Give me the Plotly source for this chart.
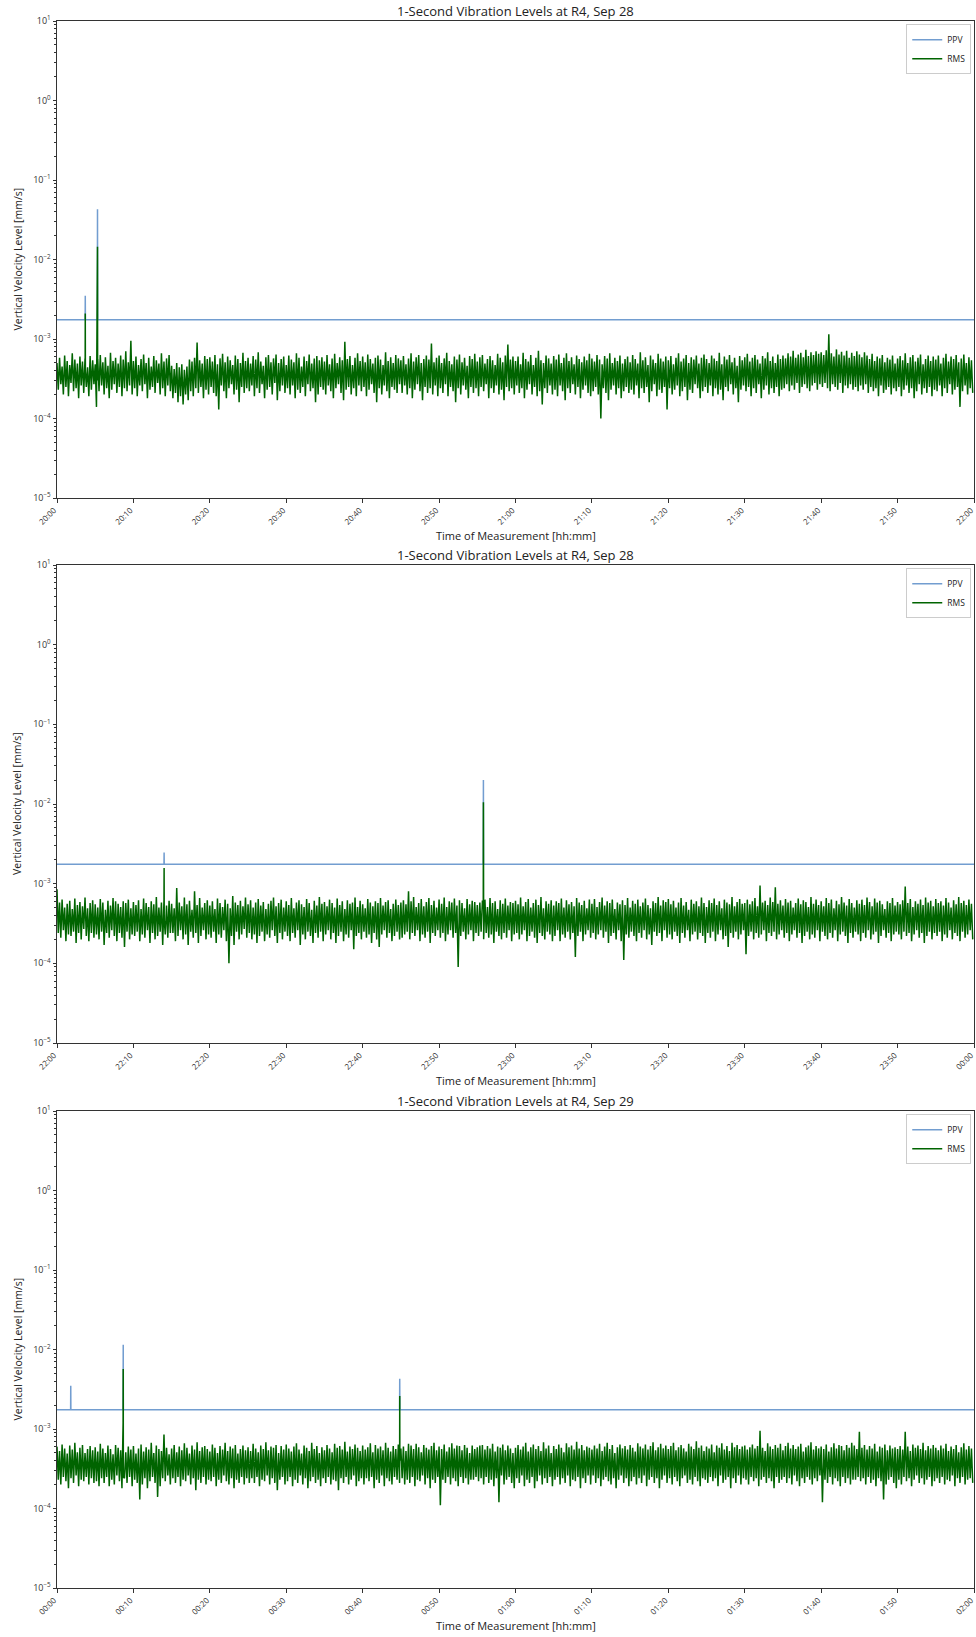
import pandas as pd
import plotly.graph_objects as go

# ---------------- data ----------------
TITLES = ["1-Second Vibration Levels at R4, Sep 28",
          "1-Second Vibration Levels at R4, Sep 28",
          "1-Second Vibration Levels at R4, Sep 29"]
STARTS = ["2023-09-28 20:00:00", "2023-09-28 22:00:00", "2023-09-29 00:00:00"]
ENDS = ["2023-09-28 22:00:00", "2023-09-29 00:00:00", "2023-09-29 02:00:00"]
STEP_S = 10            # RMS read every 10 s (alternating local max / local min)
RMS_UNIT = 1e-5        # RMS values below are in units of 1e-5 mm/s

rms1 = [
    50,23,58,27,45,20,62,25,53,19,47,28,66,22,55,24,49,18,60,26,52,21,57,25,44,19,61,23,54,27,
    48,14,56,22,63,26,51,20,59,24,46,18,67,23,53,27,58,21,49,25,62,19,55,24,70,22,51,26,95,20,
    53,24,60,19,47,26,56,22,64,27,50,18,58,23,45,25,61,21,54,28,49,20,66,24,52,19,57,26,63,22,
    46,18,42,21,50,16,44,19,48,15,41,20,45,17,55,22,52,19,58,24,90,21,54,25,49,18,61,23,56,20,
    59,25,52,21,63,19,48,13,57,26,65,22,51,18,60,24,54,27,47,20,62,23,56,16,50,25,67,21,53,24,
    58,22,49,26,61,19,55,24,68,21,52,27,46,18,59,23,63,25,51,20,57,28,64,17,50,22,56,26,60,21,
    47,24,62,20,55,26,51,18,66,23,58,21,45,25,60,19,53,27,64,22,49,24,57,16,61,20,54,25,59,23,
    52,20,63,26,48,22,57,18,65,24,50,27,59,21,54,17,92,23,56,25,61,20,47,24,58,19,66,26,53,22,
    60,25,51,19,64,23,56,27,49,21,58,16,62,24,55,20,47,26,68,22,53,18,59,25,50,23,63,21,57,27,
    54,21,61,26,48,20,57,24,66,18,52,23,59,27,63,22,50,17,56,25,62,21,55,24,88,20,51,26,58,19,
    62,24,50,21,57,27,67,19,53,25,48,22,60,16,55,24,64,20,51,26,58,23,46,18,61,25,56,21,65,24,
    52,19,59,25,63,22,49,27,56,18,61,24,54,21,47,26,65,20,58,23,51,17,62,25,85,22,55,24,60,20,
    53,26,60,21,48,24,67,18,56,23,52,27,63,20,47,25,58,19,71,22,54,15,50,24,62,21,57,26,49,20,
    61,23,55,19,64,26,50,22,58,17,66,24,53,21,59,27,48,20,62,25,56,18,51,23,60,26,54,21,65,19,
    57,22,52,25,63,20,55,10,48,24,61,21,57,17,66,23,50,26,58,20,53,24,62,18,49,22,56,25,60,21,
    51,23,63,20,56,26,49,18,68,24,54,21,59,25,47,16,62,22,55,27,50,19,65,23,57,21,52,25,60,13,
    54,24,61,20,48,23,58,26,66,19,52,22,57,25,63,17,50,23,59,21,55,27,62,24,49,18,58,22,64,25,
    56,21,50,26,62,19,57,24,53,20,67,23,48,17,60,25,55,22,63,27,51,20,58,24,46,16,61,23,54,26,
    59,22,65,25,52,19,58,24,63,21,55,27,49,18,61,23,57,26,68,20,53,24,60,21,50,25,64,19,56,23,
    62,24,57,27,66,22,60,26,71,23,58,28,64,21,67,25,59,27,73,24,61,22,68,26,63,28,70,23,65,27,
    68,25,63,28,72,24,115,22,66,27,60,25,74,23,64,28,69,21,62,26,71,24,58,27,67,23,61,25,70,22,
    64,26,59,23,68,27,62,21,56,25,65,22,53,24,60,19,57,26,63,21,51,23,58,25,55,20,62,24,49,22,
    57,25,61,19,54,23,66,26,50,21,59,24,63,18,52,22,58,27,64,20,48,24,56,21,62,25,53,19,60,23,
    55,22,62,26,49,19,58,24,65,21,52,27,60,20,56,23,63,25,51,14,57,22,64,26,50,20,59,24,54,21,
]
rms2 = [
    85,24,58,21,63,26,50,19,56,23,61,22,48,25,65,18,54,24,59,20,52,27,67,22,49,19,57,24,62,21,
    55,23,50,20,64,25,58,17,47,24,61,21,53,26,66,22,60,19,56,24,51,21,60,16,57,25,63,20,49,23,
    59,22,54,25,62,19,48,23,65,21,57,26,51,18,60,24,55,20,68,22,50,25,58,17,63,23,53,21,61,24,
    56,24,49,19,88,22,58,26,52,20,67,23,55,17,61,25,47,21,80,24,54,18,66,22,50,26,57,20,62,23,
    53,21,60,25,48,18,65,23,57,21,51,26,63,19,56,10,49,22,70,17,58,25,54,20,61,23,52,27,67,21,
    55,24,62,20,50,23,58,18,64,22,53,25,59,19,48,23,56,21,61,26,67,22,52,18,57,24,63,20,50,25,
    60,22,54,19,66,24,49,21,58,26,62,17,55,23,51,20,64,25,57,22,47,18,61,24,53,21,68,25,56,19,
    59,23,52,26,63,20,57,24,50,18,65,22,54,25,60,19,48,23,62,21,56,26,58,15,67,22,51,24,61,20,
    55,25,49,21,64,23,58,18,52,24,60,20,57,16,66,23,53,26,59,21,62,24,48,19,56,22,63,25,54,20,
    58,21,62,23,55,25,80,20,60,24,68,22,51,26,57,19,64,23,52,21,59,25,66,18,54,24,61,22,50,26,
    63,21,56,24,67,19,51,23,60,26,58,21,65,24,53,9,62,22,57,25,49,20,64,23,55,26,61,19,59,24,
    54,22,58,25,60,20,63,24,51,21,66,23,57,18,60,25,48,22,62,20,56,24,65,21,53,26,59,19,57,23,
    61,24,55,20,67,23,52,26,59,19,64,22,50,25,57,21,63,18,54,24,68,22,49,20,60,25,56,23,62,19,
    53,22,60,26,57,19,65,23,50,21,62,25,55,20,59,24,52,12,66,22,58,25,54,19,61,23,49,26,63,21,
    56,24,64,20,51,23,59,26,67,21,53,25,60,18,57,22,63,24,48,20,58,26,55,19,62,11,54,23,66,21,
    50,25,61,22,56,19,63,24,52,21,58,26,65,20,54,23,49,17,60,25,57,22,68,24,53,19,62,26,59,21,
    64,23,55,20,61,25,50,22,58,18,66,24,53,21,59,26,47,19,63,23,56,25,60,20,52,24,67,22,57,18,
    51,24,62,21,57,25,65,19,54,23,60,26,49,20,63,22,58,16,55,24,68,21,52,25,59,20,64,23,56,26,
    57,13,63,22,55,25,60,20,66,24,52,21,95,23,58,26,61,19,54,24,67,22,59,25,90,20,56,23,62,26,
    53,21,64,24,58,19,61,23,50,26,57,21,65,24,55,18,62,22,59,25,51,20,68,23,56,21,63,26,54,19,
    60,25,52,22,66,20,57,24,63,21,49,26,61,19,55,23,68,25,58,22,53,18,64,24,57,21,50,25,62,23,
    56,19,63,24,54,21,67,26,59,20,52,23,65,25,58,18,61,22,55,26,48,21,60,24,57,19,66,23,53,25,
    59,23,55,20,62,25,92,22,57,24,64,19,51,23,60,26,56,21,63,24,54,18,67,22,58,25,61,20,52,24,
    64,22,57,25,60,19,53,23,66,21,58,26,50,20,62,24,55,22,68,19,57,25,61,21,54,23,63,26,56,20,
]
rms3 = [
    60,23,53,20,64,25,57,22,49,18,62,24,55,21,67,26,51,19,58,23,63,22,50,25,56,20,61,24,54,21,
    59,22,52,19,65,24,57,21,50,25,62,19,56,23,48,20,63,26,58,22,54,18,66,24,51,21,60,25,55,19,
    61,23,49,21,57,13,64,20,52,24,59,18,55,22,67,25,50,21,62,14,56,19,53,24,85,22,58,26,48,20,
    57,24,63,21,51,25,60,19,54,23,66,22,58,26,49,20,62,24,55,17,68,23,53,21,59,25,61,20,56,23,
    52,22,64,25,58,19,50,23,61,21,55,26,67,22,53,20,60,24,57,18,63,23,49,21,56,25,62,20,54,24,
    59,21,53,24,65,21,57,25,51,19,62,23,56,22,68,26,54,20,60,24,58,21,63,17,50,23,61,25,55,20,
    64,22,57,25,52,19,60,23,66,21,55,26,49,20,62,24,58,18,53,22,67,25,56,21,61,23,50,19,59,24,
    54,21,63,25,57,20,51,23,65,22,58,17,61,24,55,21,69,25,52,20,60,23,56,26,64,19,58,22,53,24,
    62,20,55,24,59,22,66,25,51,18,63,23,57,21,60,26,54,19,67,24,58,22,52,20,61,25,56,23,64,21,
    57,24,60,20,53,23,65,21,62,25,56,19,65,23,59,22,51,26,63,20,58,24,55,18,61,23,67,21,54,25,
    60,11,56,23,64,21,52,25,59,20,66,24,57,22,62,19,61,25,54,21,63,24,58,20,50,23,62,23,56,25,
    59,22,62,24,63,20,55,25,61,21,57,23,65,19,52,24,60,12,58,26,64,20,54,23,62,25,57,21,50,18,
    58,24,63,21,55,26,60,19,67,23,52,21,59,25,64,18,56,22,61,26,53,20,68,24,57,21,62,25,50,19,
    61,23,56,25,64,20,58,24,51,21,66,26,59,19,62,23,55,22,69,25,57,18,63,24,54,21,60,26,58,20,
    55,26,62,21,57,24,65,19,53,23,60,25,67,22,56,20,63,24,50,18,59,23,64,26,57,21,61,24,55,19,
    63,22,58,25,52,20,66,24,60,21,57,26,64,19,55,23,61,25,68,21,54,24,59,18,65,23,57,26,62,21,
    56,24,61,20,67,25,54,22,59,19,63,24,57,26,52,21,65,23,60,20,56,25,70,22,58,19,62,24,53,23,
    60,21,57,25,64,22,51,24,62,19,58,26,66,21,55,23,61,25,53,18,67,24,59,21,63,26,56,20,60,24,
    62,23,55,20,59,25,64,22,57,24,61,19,95,23,58,25,53,21,66,24,60,22,56,18,63,25,58,21,65,23,
    54,25,61,21,67,24,57,20,63,26,56,22,60,19,65,24,52,21,59,25,62,23,68,20,55,24,61,22,57,26,
    60,12,56,23,64,21,52,25,59,20,66,24,57,22,63,19,61,25,54,21,63,24,58,20,67,23,62,23,56,25,
    92,22,58,24,63,20,55,25,61,21,57,23,65,19,52,24,60,22,58,13,64,20,54,23,62,25,57,21,59,18,
    56,23,61,20,55,25,92,22,60,24,53,19,64,23,58,26,62,21,56,24,67,20,54,23,61,25,57,19,63,22,
    58,24,54,21,62,25,57,20,65,23,53,22,60,26,56,19,63,24,51,21,59,25,66,20,55,23,61,24,57,21,
]

# short events (1-s spikes), RMS in units of 1e-5 mm/s
rms1_ev_t = ["2023-09-28 20:03:41", "2023-09-28 20:03:42", "2023-09-28 20:03:43",
             "2023-09-28 20:05:17", "2023-09-28 20:05:18", "2023-09-28 20:05:19"]
rms1_ev_v = [45, 210, 40, 700, 1450, 30]
rms2_ev_t = ["2023-09-28 22:14:00", "2023-09-28 22:14:01", "2023-09-28 22:14:02",
             "2023-09-28 22:55:47", "2023-09-28 22:55:48", "2023-09-28 22:55:49"]
rms2_ev_v = [40, 157, 35, 60, 1050, 40]
rms3_ev_t = ["2023-09-29 00:08:39", "2023-09-29 00:08:40", "2023-09-29 00:08:41",
             "2023-09-29 00:44:50", "2023-09-29 00:44:51", "2023-09-29 00:44:52"]
rms3_ev_v = [120, 570, 25, 45, 260, 40]

ppv1_t = ["2023-09-28 20:00:00", "2023-09-28 20:03:41", "2023-09-28 20:03:42", "2023-09-28 20:03:43",
          "2023-09-28 20:05:17", "2023-09-28 20:05:18", "2023-09-28 20:05:19", "2023-09-28 22:00:00"]
ppv1_v = [1.75e-3, 1.75e-3, 3.5e-3, 1.75e-3, 1.75e-3, 4.3e-2, 1.75e-3, 1.75e-3]
ppv2_t = ["2023-09-28 22:00:00", "2023-09-28 22:14:00", "2023-09-28 22:14:01", "2023-09-28 22:14:02",
          "2023-09-28 22:55:47", "2023-09-28 22:55:48", "2023-09-28 22:55:49", "2023-09-29 00:00:00"]
ppv2_v = [1.75e-3, 1.75e-3, 2.46e-3, 1.75e-3, 1.75e-3, 2.0e-2, 1.75e-3, 1.75e-3]
ppv3_t = ["2023-09-29 00:00:00", "2023-09-29 00:01:47", "2023-09-29 00:01:48", "2023-09-29 00:01:49",
          "2023-09-29 00:08:39", "2023-09-29 00:08:40", "2023-09-29 00:08:41",
          "2023-09-29 00:44:50", "2023-09-29 00:44:51", "2023-09-29 00:44:52", "2023-09-29 02:00:00"]
ppv3_v = [1.75e-3, 1.75e-3, 3.5e-3, 1.75e-3, 1.75e-3, 1.15e-2, 1.75e-3,
          1.75e-3, 4.3e-3, 1.75e-3, 1.75e-3]

Y_TICKS = [1e-5, 1e-4, 1e-3, 1e-2, 1e-1, 1e0, 1e1]
Y_TICKTEXT = ["10<sup>−5</sup>", "10<sup>−4</sup>", "10<sup>−3</sup>", "10<sup>−2</sup>",
              "10<sup>−1</sup>", "10<sup>0</sup>", "10<sup>1</sup>"]
X_TICK_MINUTES = 10

# ---------------- figure ----------------
W, H = 976, 1637
ML, MR, MT, MB = 57, 2, 21, 49
plot_h = H - MT - MB
panel_px = [(21, 498), (565, 1043), (1111, 1588)]
domains = [[(H - MB - b) / plot_h, (H - MB - t) / plot_h] for t, b in panel_px]

PPV_COLOR = "#729dd0"
RMS_COLOR = "#006400"
AX_COLOR = "#333333"
FONT = "Open Sans"

rms_sets = [(rms1, rms1_ev_t, rms1_ev_v), (rms2, rms2_ev_t, rms2_ev_v), (rms3, rms3_ev_t, rms3_ev_v)]
ppv_sets = [(ppv1_t, ppv1_v), (ppv2_t, ppv2_v), (ppv3_t, ppv3_v)]

fig = go.Figure()
minor_vals = [m * 10.0 ** k for k in range(-5, 1) for m in range(2, 10)]
annotations = []

for i in range(3):
    n = i + 1
    sfx = "" if n == 1 else str(n)
    start = pd.Timestamp(STARTS[i])
    base, ev_t, ev_v = rms_sets[i]
    base_t = [start + pd.Timedelta(seconds=STEP_S * k) for k in range(len(base))]
    df = pd.DataFrame({"t": base_t + [pd.Timestamp(s) for s in ev_t],
                       "v": list(base) + list(ev_v)}).sort_values("t")
    df["v"] = df["v"] * RMS_UNIT
    pt, pv = ppv_sets[i]
    leg = "legend" if n == 1 else f"legend{n}"
    xa, ya = f"x{sfx}", f"y{sfx}"

    fig.add_trace(go.Scatter(x=pd.to_datetime(pt), y=pv, mode="lines", name="PPV",
                             line=dict(color=PPV_COLOR, width=1.5),
                             xaxis=xa, yaxis=ya, legend=leg))
    fig.add_trace(go.Scatter(x=df["t"], y=df["v"], mode="lines", name="RMS",
                             line=dict(color=RMS_COLOR, width=1.5),
                             xaxis=xa, yaxis=ya, legend=leg))

    d0, d1 = domains[i]
    tick_times = pd.date_range(STARTS[i], ENDS[i], freq=f"{X_TICK_MINUTES}min")
    fig.layout[f"xaxis{sfx}"] = dict(
        domain=[0, 1], anchor=ya, type="date", automargin=False,
        range=[STARTS[i], ENDS[i]],
        tickmode="array", tickvals=list(tick_times),
        ticktext=[t.strftime("%H:%M") for t in tick_times],
        ticklabeloverflow="allow", ticklabelshift=-3,
        tickangle=-45, ticks="outside", ticklen=3.5,
        tickcolor=AX_COLOR, showline=True, linecolor=AX_COLOR, linewidth=1,
        mirror=True, showgrid=False, zeroline=False,
        tickfont=dict(family=FONT, size=8, color="#333333"))
    fig.layout[f"yaxis{sfx}"] = dict(
        domain=[d0, d1], anchor=xa, type="log", range=[-5, 1], automargin=False,
        tickmode="array", tickvals=Y_TICKS, ticktext=Y_TICKTEXT,
        ticks="outside", ticklen=3.5, tickcolor=AX_COLOR,
        minor=dict(tickmode="array", tickvals=minor_vals, ticks="outside",
                   ticklen=2, tickcolor=AX_COLOR, showgrid=False),
        showline=True, linecolor=AX_COLOR, linewidth=1, mirror=True,
        showgrid=False, zeroline=False,
        tickfont=dict(family=FONT, size=9, color="#333333"))
    fig.layout[leg] = dict(
        x=0.997, y=d1 - 0.002, xanchor="right", yanchor="top", traceorder="normal",
        bgcolor="rgba(255,255,255,0.85)", bordercolor="#cccccc", borderwidth=1,
        font=dict(family=FONT, size=8.5, color="#222222"), tracegroupgap=0,
        itemwidth=30)

    annotations.append(dict(text=TITLES[i], x=0.5, y=d1, xref="paper", yref="paper",
                            xanchor="center", yanchor="bottom", yshift=-1, showarrow=False,
                            font=dict(family=FONT, size=13, color="#222222")))
    annotations.append(dict(text="Time of Measurement [hh:mm]", x=0.5, y=d0,
                            xref="paper", yref="paper", xanchor="center", yanchor="middle",
                            yshift=-37, showarrow=False,
                            font=dict(family=FONT, size=11, color="#222222")))
    annotations.append(dict(text="Vertical Velocity Level [mm/s]", x=0, y=(d0 + d1) / 2,
                            xref="paper", yref="paper", xanchor="center", yanchor="middle",
                            xshift=-40, textangle=-90, showarrow=False,
                            font=dict(family=FONT, size=10.5, color="#222222")))

fig.update_layout(width=W, height=H, margin=dict(l=ML, r=MR, t=MT, b=MB, autoexpand=False),
                  paper_bgcolor="white", plot_bgcolor="white",
                  showlegend=True, annotations=annotations,
                  font=dict(family=FONT))
fig.write_html("out.html", config={"displayModeBar": False},
               post_script="document.body.style.margin='0';document.body.style.overflow='hidden';")
